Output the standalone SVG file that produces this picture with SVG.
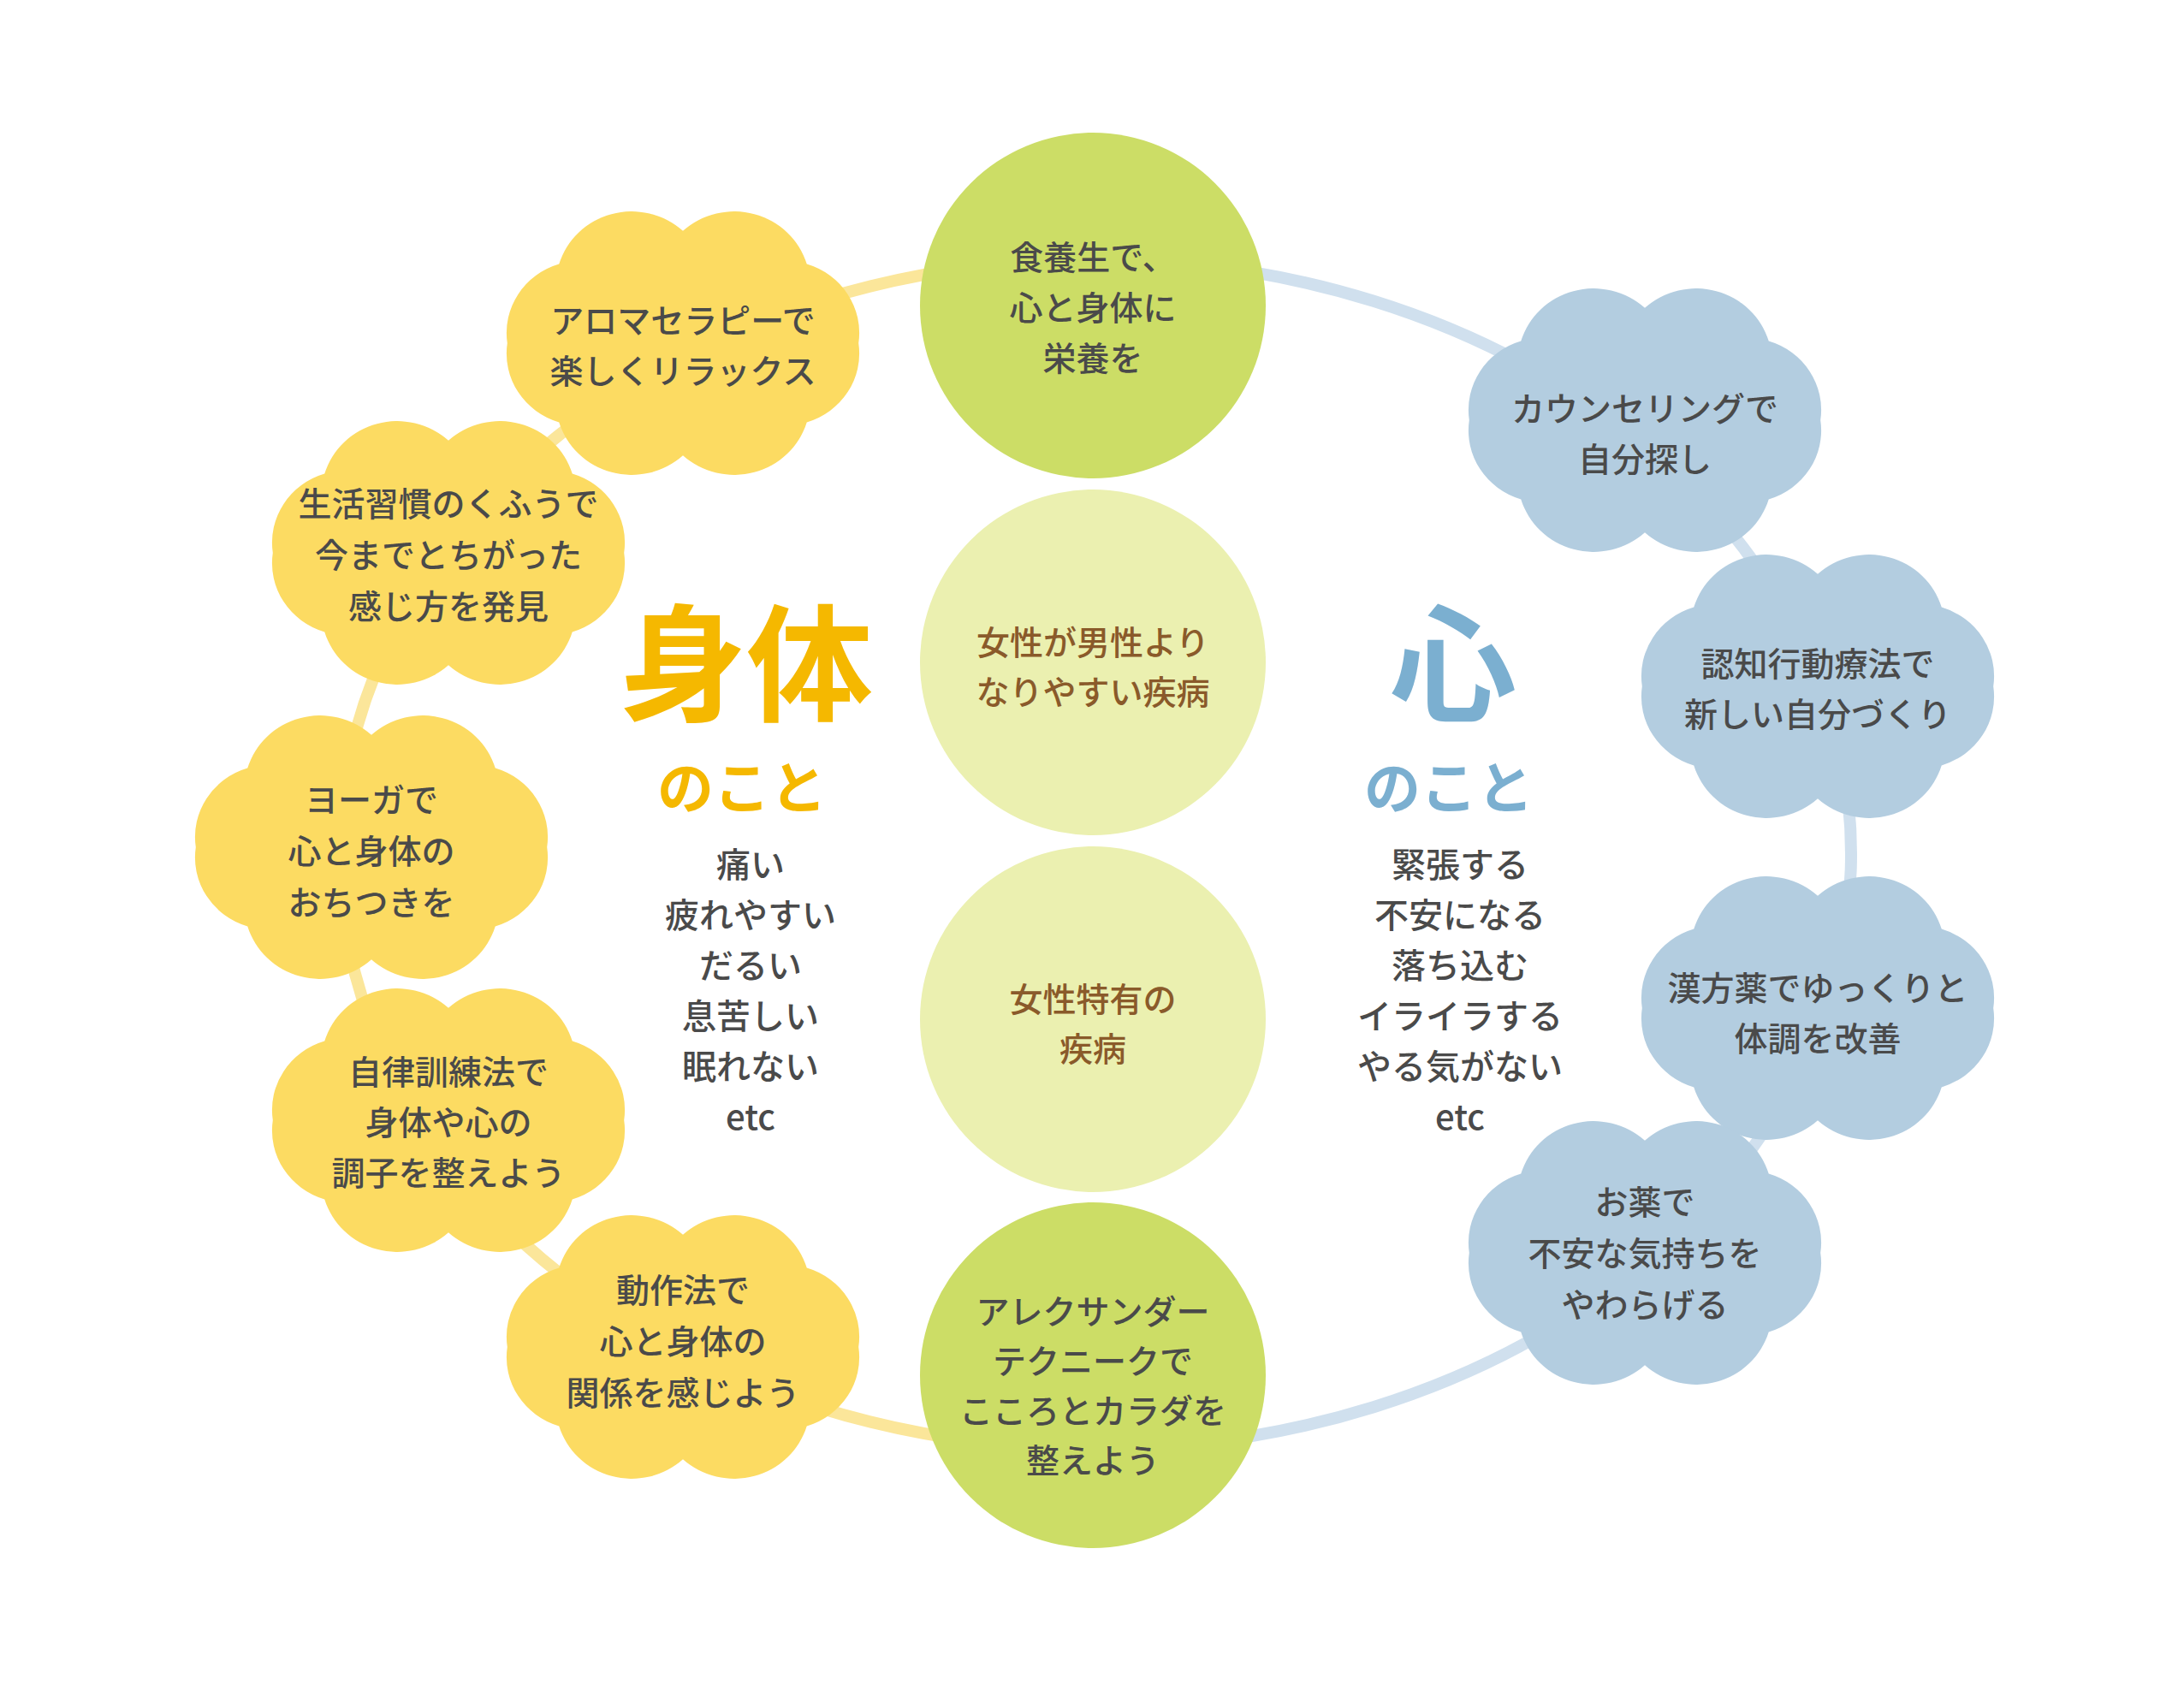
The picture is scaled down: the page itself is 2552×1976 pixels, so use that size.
<svg xmlns="http://www.w3.org/2000/svg" width="2552" height="1976" viewBox="0 0 2552 1976">
<style>
text{font-family:"Noto Sans CJK JP","Noto Sans",sans-serif;text-anchor:middle;dominant-baseline:central}
.t{font-size:39px;font-weight:500;fill:#4a4a4a}
.g{font-size:39px;font-weight:500;fill:#8a5a2a}
.s{font-size:40px;font-weight:500;fill:#4a4a4a}
.cy{fill:#fcdb62}.cb{fill:#b3cde0}
</style>
<defs>
<path id="cloud" d="M190,0 A80,80 0 0 1 134,88 A82,82 0 0 1 0,125 A82,82 0 0 1 -134,88 A80,80 0 0 1 -190,0 A80,80 0 0 1 -134,-88 A82,82 0 0 1 0,-125 A82,82 0 0 1 134,-88 A80,80 0 0 1 190,0 Z"/>
</defs>
<rect width="2552" height="1976" fill="#fff"/>
<g id="connectors" fill="none" stroke-width="14">
<path d="M1280,303 A883,695 0 0 0 1280,1693" stroke="#fbe69a"/>
<path d="M1280,303 A883,695 0 0 1 1280,1693" stroke="#d0e0ee"/>
</g>
<g id="n-top"><circle cx="1277" cy="357" r="202" fill="#ccdd66"/>
<text class="t" x="1277" y="298">食養生で、</text><text class="t" x="1277" y="357">心と身体に</text><text class="t" x="1277" y="416">栄養を</text></g>
<g id="n-mid1"><circle cx="1277" cy="774" r="202" fill="#ebf0b0"/>
<text class="g" x="1277" y="748">女性が男性より</text><text class="g" x="1277" y="806">なりやすい疾病</text></g>
<g id="n-mid2"><circle cx="1277" cy="1191" r="202" fill="#ebf0b0"/>
<text class="g" x="1277" y="1165">女性特有の</text><text class="g" x="1277" y="1223">疾病</text></g>
<g id="n-bottom"><circle cx="1277" cy="1607" r="202" fill="#ccdd66"/>
<text class="t" x="1277" y="1530">アレクサンダー</text><text class="t" x="1277" y="1588">テクニークで</text><text class="t" x="1277" y="1646">こころとカラダを</text><text class="t" x="1277" y="1704">整えよう</text></g>

<g id="y1"><use href="#cloud" class="cy" transform="translate(798,401) scale(1.08,1.05)"/>
<text class="t" x="798" y="372">アロマセラピーで</text><text class="t" x="798" y="431">楽しくリラックス</text></g>
<g id="y2"><use href="#cloud" class="cy" transform="translate(524,646) scale(1.08,1.05)"/>
<text class="t" x="524" y="586">生活習慣のくふうで</text><text class="t" x="524" y="646">今までとちがった</text><text class="t" x="524" y="706">感じ方を発見</text></g>
<g id="y3"><use href="#cloud" class="cy" transform="translate(434,990) scale(1.08,1.05)"/>
<text class="t" x="434" y="932">ヨーガで</text><text class="t" x="434" y="992">心と身体の</text><text class="t" x="434" y="1052">おちつきを</text></g>
<g id="y4"><use href="#cloud" class="cy" transform="translate(524,1309) scale(1.08,1.05)"/>
<text class="t" x="524" y="1250">自律訓練法で</text><text class="t" x="524" y="1309">身体や心の</text><text class="t" x="524" y="1368">調子を整えよう</text></g>
<g id="y5"><use href="#cloud" class="cy" transform="translate(798,1574) scale(1.08,1.05)"/>
<text class="t" x="798" y="1505">動作法で</text><text class="t" x="798" y="1565">心と身体の</text><text class="t" x="798" y="1625">関係を感じよう</text></g>

<g id="b1"><use href="#cloud" class="cb" transform="translate(1922,491) scale(1.08,1.05)"/>
<text class="t" x="1922" y="475">カウンセリングで</text><text class="t" x="1922" y="534">自分探し</text></g>
<g id="b2"><use href="#cloud" class="cb" transform="translate(2124,802) scale(1.08,1.05)"/>
<text class="t" x="2124" y="773">認知行動療法で</text><text class="t" x="2124" y="832">新しい自分づくり</text></g>
<g id="b3"><use href="#cloud" class="cb" transform="translate(2124,1178) scale(1.08,1.05)"/>
<text class="t" x="2124" y="1152">漢方薬でゆっくりと</text><text class="t" x="2124" y="1211">体調を改善</text></g>
<g id="b4"><use href="#cloud" class="cb" transform="translate(1922,1464) scale(1.08,1.05)"/>
<text class="t" x="1922" y="1402">お薬で</text><text class="t" x="1922" y="1462">不安な気持ちを</text><text class="t" x="1922" y="1522">やわらげる</text></g>

<g id="body-title">
<text x="872" y="766" style="font-size:148px;font-weight:700;fill:#f5b800">身体</text>
<text x="867" y="916" style="font-size:66px;font-weight:700;fill:#f5b800">のこと</text>
</g>
<g id="mind-title">
<text x="1698" y="766" style="font-size:148px;font-weight:700;fill:#7bafd0">心</text>
<text x="1693" y="916" style="font-size:66px;font-weight:700;fill:#7bafd0">のこと</text>
</g>
<g id="body-symptoms">
<text class="s" x="877" y="1008">痛い</text><text class="s" x="877" y="1067">疲れやすい</text><text class="s" x="877" y="1126">だるい</text><text class="s" x="877" y="1185">息苦しい</text><text class="s" x="877" y="1244">眠れない</text><text class="s" x="877" y="1303">etc</text>
</g>
<g id="mind-symptoms">
<text class="s" x="1706" y="1008">緊張する</text><text class="s" x="1706" y="1067">不安になる</text><text class="s" x="1706" y="1126">落ち込む</text><text class="s" x="1706" y="1185">イライラする</text><text class="s" x="1706" y="1244">やる気がない</text><text class="s" x="1706" y="1303">etc</text>
</g>
</svg>
